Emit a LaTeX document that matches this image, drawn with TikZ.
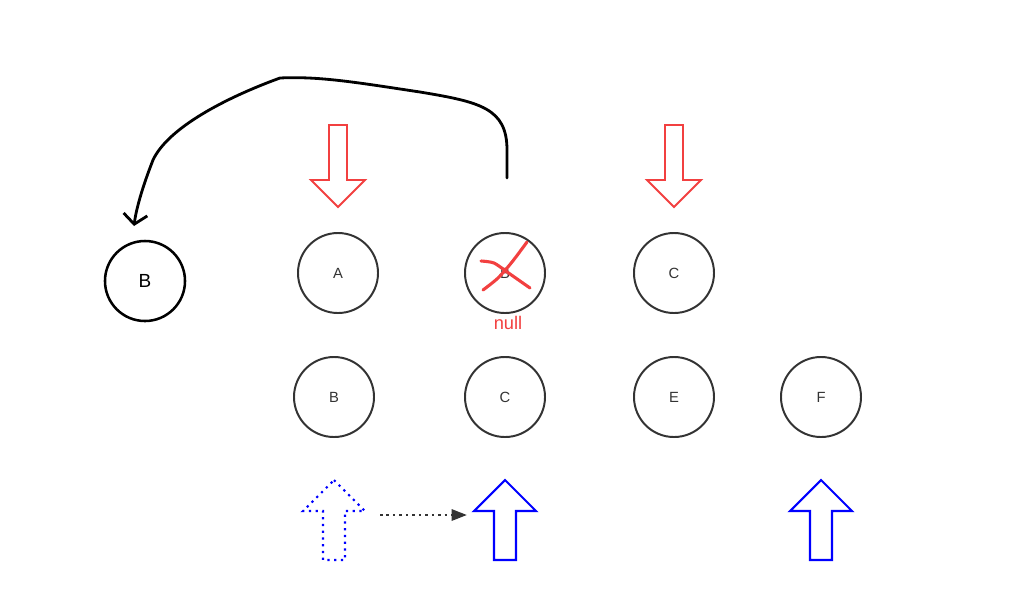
\documentclass[tikz,border=0pt]{standalone}
\usepackage{fontspec}
\setmainfont{Liberation Sans}
\usetikzlibrary{arrows.meta,positioning}
\definecolor{nodegray}{RGB}{51,51,51}
\definecolor{markred}{RGB}{242,64,64}
\definecolor{pointblue}{RGB}{0,0,255}
\tikzset{
  elem/.style={circle, draw=nodegray, line width=1.4pt, minimum size=2cm, inner sep=0pt,
    text=nodegray, font=\fontsize{10.5}{12}\selectfont},
  savedelem/.style={elem, draw=black, text=black, line width=1.8pt, font=\fontsize{13.5}{15}\selectfont},
  redline/.style={draw=markred, line width=1.4pt},
  blueline/.style={draw=pointblue, line width=1.5pt},
  dotline/.style={line width=1.8pt, dash pattern=on 1.8pt off 2.8pt},
  downarrow/.pic={\draw[pic actions] (-9,0) -- (9,0) -- (9,55) -- (27,55) -- (0,82) -- (-27,55) -- (-9,55) -- cycle;},
  uparrow/.pic={\draw[pic actions] (0,0) -- (31,31) -- (11,31) -- (11,80) -- (-11,80) -- (-11,31) -- (-31,31) -- cycle;}
}
\begin{document}
\begin{tikzpicture}[x=0.025cm, y=-0.025cm]
  \useasboundingbox (0,0) rectangle (1026,595);
  % nodes
  \node[savedelem] (saved) at (145,281) {B};
  \node[elem] (topA) at (338,273) {A};
  \node[elem] (topB) at (505,273) {B};
  \node[elem] (topC) at (674,273) {C};
  \node[elem] (botB) at (334,397) {B};
  \node[elem] (botC) at (505,397) {C};
  \node[elem] (botE) at (674,397) {E};
  \node[elem] (botF) at (821,397) {F};
  \node[text=markred, font=\fontsize{13}{15}\selectfont] (nulltxt) at (508,323) {null};
  % red pointers
  \pic[redline] at (338,125) {downarrow};
  \pic[redline] at (674,125) {downarrow};
  % blue pointers
  \pic[blueline, dash pattern=on 1.6pt off 3.2pt] at (334,480) {uparrow};
  \pic[blueline] at (505,480) {uparrow};
  \pic[blueline] at (821,480) {uparrow};
  % move
  \coordinate (movefrom) at (380,515);
  \coordinate (moveto) at (467,515);
  \draw[nodegray, dotline, -{Triangle[length=11pt,width=8pt]}] (movefrom) -- (moveto);
  % cross on B
  \draw[markred, line width=2.2pt, line cap=round] plot[smooth] coordinates {(483,290) (498,278) (512,262) (527,242)};
  \draw[markred, line width=2.2pt, line cap=round] plot[smooth, tension=0.4] coordinates {(481,261) (494,263) (510,274) (530,288)};
  % hand drawn link
  \coordinate (hook) at (507,178);
  \coordinate (landing) at (134,226);
  \draw[black, line width=2pt, line cap=round, line join=round, -{Straight Barb[length=7pt,width=17pt]}]
    (hook) -- (507,150) .. controls (507,108) and (480,102) .. (420,92)
    .. controls (360,83) and (320,76) .. (280,78)
    .. controls (225,98) and (168,128) .. (153,160)
    .. controls (142,188) and (136,210) .. (landing);
\end{tikzpicture}
\end{document}
